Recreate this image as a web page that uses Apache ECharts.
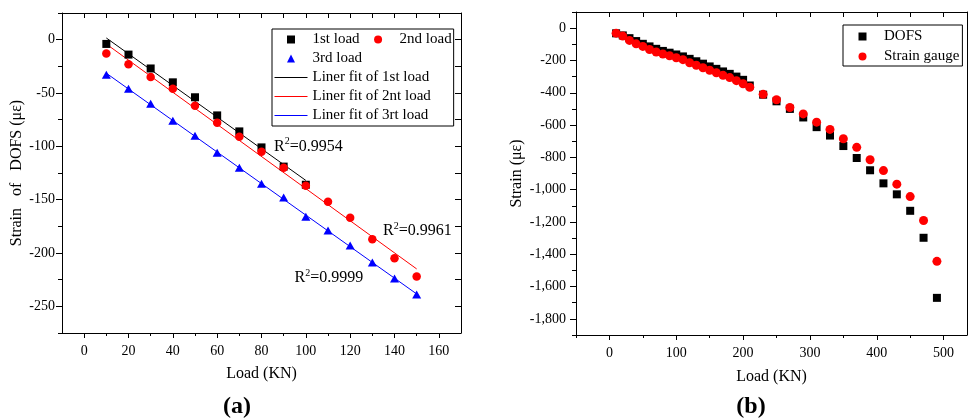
<!DOCTYPE html>
<html><head><meta charset="utf-8">
<script src="https://cdn.jsdelivr.net/npm/echarts@6/dist/echarts.min.js"></script>
<style>html,body{margin:0;padding:0;background:#fff}#c{width:968px;height:419px}</style>
</head><body><div id="c"></div>
<script>
// ---------- Panel (a) data ----------
const loadA = [10, 20, 30, 40, 50, 60, 70, 80, 90, 100, 110, 120, 130, 140, 150];
const load1st = [-4, -14, -27, -40, -54, -71, -86, -101, -119, -136];
const load2nd = [-13, -23, -35, -46, -62, -78, -91, -105, -120, -137, -152, -167, -187, -205, -222];
const load3rd = [-33, -46, -60, -76, -90, -106, -120, -135, -148, -166, -179, -193, -209, -224, -239];
const r2Texts = ['0.9954', '0.9961', '0.9999'];
const xLabelsA = [0, 20, 40, 60, 80, 100, 120, 140, 160];
const xMinorA = [10, 30, 50, 70, 90, 110, 130, 150];
const yLabelsA = [-250, -200, -150, -100, -50, 0];
const yMinorA = [-275, -225, -175, -125, -75, -25, 25];

// ---------- Panel (b) data ----------
const loadB = [10, 20, 30, 40, 50, 60, 70, 80, 90, 100, 110, 120, 130, 140, 150, 160, 170, 180, 190, 200, 210,
  230, 250, 270, 290, 310, 330, 350, 370, 390, 410, 430, 450, 470, 490];
const dofs = [-32, -45, -62, -80, -97, -113, -128, -141, -152, -163, -175, -190, -205, -220, -237, -252, -268, -283, -300, -320, -355,
  -412, -453, -500, -553, -613, -665, -730, -804, -880, -961, -1029, -1131, -1298, -1670];
const gauge = [-31, -49, -76, -97, -113, -132, -148, -160, -171, -183, -195, -214, -230, -245, -261, -276, -292, -306, -325, -344, -366,
  -410, -443, -491, -531, -582, -627, -685, -738, -815, -882, -966, -1043, -1191, -1444];
const xLabelsB = [0, 100, 200, 300, 400, 500];
const xMinorB = [-50, 50, 150, 250, 350, 450];
const yLabelsB = [-1800, -1600, -1400, -1200, -1000, -800, -600, -400, -200, 0];
const yMinorB = [-1900, -1700, -1500, -1300, -1100, -900, -700, -500, -300, -100, 100];

// ---------- helpers ----------
const zip = (xs, ys) => ys.map((y, i) => [xs[i], y]);
function linFit(xs, ys) {
  const n = ys.length, x = xs.slice(0, n);
  const mx = x.reduce((a, b) => a + b, 0) / n, my = ys.reduce((a, b) => a + b, 0) / n;
  let sxy = 0, sxx = 0;
  for (let i = 0; i < n; i++) { sxy += (x[i] - mx) * (ys[i] - my); sxx += (x[i] - mx) ** 2; }
  const b = sxy / sxx, a = my - b * mx;
  return [[x[0], a + b * x[0]], [x[n - 1], a + b * x[n - 1]]];
}
const FONT = 'Liberation Serif';
const BLACK = '#000', RED = '#ff0000', BLUE = '#0000ff';
const fmtComma = v => { const s = String(Math.abs(v)).replace(/\B(?=(\d{3})+(?!\d))/g, ','); return (v < 0 ? '-' : '') + s; };
const lbl = { color: BLACK, fontFamily: FONT, fontSize: 14 };
const nameStyle = { color: BLACK, fontFamily: FONT, fontSize: 16 };
const axLine = { show: true, onZero: false, lineStyle: { color: BLACK, width: 1 } };
const noLine = { show: false, onZero: false };

function r2Label(val) {
  return {
    show: true, position: 'right', distance: 0, color: BLACK,
    formatter: '{r|R}{s|2}{r|=' + val + '}',
    rich: { r: { fontFamily: FONT, fontSize: 16, color: BLACK }, s: { fontFamily: FONT, fontSize: 10, color: BLACK, padding: [0, 0, 9, 0] } }
  };
}
function marker(coord, val) {
  return { symbol: 'circle', symbolSize: 1, itemStyle: { color: 'transparent' }, label: r2Label(val), data: [{ coord: coord }], silent: true };
}

const chart = echarts.init(document.getElementById('c'), null, { renderer: 'canvas' });
const option = {
  animation: false,
  backgroundColor: '#fff',
  grid: [
    { left: 62, top: 13, width: 399, height: 320, outerBoundsMode: 'none', containLabel: false },
    { left: 576, top: 12, right: 1, height: 323, outerBoundsMode: 'none', containLabel: false }
  ],
  xAxis: [
    { type: 'value', gridIndex: 0, position: 'bottom', min: -10, max: 170, axisLine: axLine, splitLine: { show: false },
      axisTick: { customValues: xLabelsA, length: 5, lineStyle: { color: BLACK } },
      axisLabel: { customValues: xLabelsA, margin: 11, ...lbl },
      name: 'Load (KN)', nameLocation: 'middle', nameGap: 33, nameTextStyle: nameStyle },
    { type: 'value', gridIndex: 0, position: 'bottom', min: -10, max: 170, axisLine: noLine, splitLine: { show: false },
      axisTick: { customValues: xMinorA, length: 3, lineStyle: { color: BLACK } }, axisLabel: { show: false } },
    { type: 'value', gridIndex: 0, position: 'top', min: -10, max: 170, interval: 10, axisLine: axLine, splitLine: { show: false },
      axisTick: { inside: true, length: 5, lineStyle: { color: BLACK } }, axisLabel: { show: false } },
    { type: 'value', gridIndex: 1, position: 'bottom', min: -50, max: 535, axisLine: axLine, splitLine: { show: false },
      axisTick: { customValues: xLabelsB, length: 5, lineStyle: { color: BLACK } },
      axisLabel: { customValues: xLabelsB, margin: 11, ...lbl },
      name: 'Load (KN)', nameLocation: 'middle', nameGap: 34, nameTextStyle: nameStyle },
    { type: 'value', gridIndex: 1, position: 'bottom', min: -50, max: 535, axisLine: noLine, splitLine: { show: false },
      axisTick: { customValues: xMinorB, length: 3, lineStyle: { color: BLACK } }, axisLabel: { show: false } },
    { type: 'value', gridIndex: 1, position: 'top', min: -50, max: 535, interval: 50, axisLine: axLine, splitLine: { show: false },
      axisTick: { inside: true, length: 5, lineStyle: { color: BLACK } }, axisLabel: { show: false } }
  ],
  yAxis: [
    { type: 'value', gridIndex: 0, position: 'left', min: -275, max: 25, axisLine: axLine, splitLine: { show: false },
      axisTick: { customValues: yLabelsA, length: 6, lineStyle: { color: BLACK } },
      axisLabel: { customValues: yLabelsA, margin: 7, ...lbl },
      name: 'Strain   of   DOFS (με)', nameLocation: 'middle', nameGap: 37, nameTextStyle: nameStyle },
    { type: 'value', gridIndex: 0, position: 'left', min: -275, max: 25, axisLine: noLine, splitLine: { show: false },
      axisTick: { customValues: yMinorA, length: 4, lineStyle: { color: BLACK } }, axisLabel: { show: false } },
    { type: 'value', gridIndex: 0, position: 'right', min: -275, max: 25, interval: 25, axisLine: axLine, splitLine: { show: false },
      axisTick: { inside: true, length: 6, lineStyle: { color: BLACK } }, axisLabel: { show: false } },
    { type: 'value', gridIndex: 1, position: 'left', min: -1900, max: 100, axisLine: axLine, splitLine: { show: false },
      axisTick: { customValues: yLabelsB, length: 6, lineStyle: { color: BLACK } },
      axisLabel: { customValues: yLabelsB, margin: 10, formatter: fmtComma, ...lbl },
      name: 'Strain (με)', nameLocation: 'middle', nameGap: 51, nameTextStyle: nameStyle },
    { type: 'value', gridIndex: 1, position: 'left', min: -1900, max: 100, axisLine: noLine, splitLine: { show: false },
      axisTick: { customValues: yMinorB, length: 4, lineStyle: { color: BLACK } }, axisLabel: { show: false } },
    { type: 'value', gridIndex: 1, position: 'right', min: -1900, max: 100, axisLine: axLine, splitLine: { show: false },
      axisTick: { show: false }, axisLabel: { show: false } }
  ],
  legend: [
    { left: 272, top: 29, width: 200, orient: 'horizontal', itemWidth: 33, itemHeight: 10, itemGap: 2,
      padding: [2, 2, 2, 2], borderColor: BLACK, borderWidth: 1, backgroundColor: '#fff',
      textStyle: { fontFamily: FONT, fontSize: 15, color: BLACK, lineHeight: 17 },
      data: [
        { name: '1st load', lineStyle: { width: 0 } }, { name: '2nd load', lineStyle: { width: 0 } },
        { name: '3rd load', lineStyle: { width: 0 } },
        { name: 'Liner fit of 1st load', itemStyle: { opacity: 0 }, lineStyle: { width: 1 } },
        { name: 'Liner fit of 2nt load', itemStyle: { opacity: 0 }, lineStyle: { width: 1 } },
        { name: 'Liner fit of 3rt load', itemStyle: { opacity: 0 }, lineStyle: { width: 1 } }
      ] },
    { left: 843, top: 25, orient: 'vertical', itemWidth: 33, itemHeight: 10, itemGap: 5,
      padding: [4, 3, 2, 3], borderColor: BLACK, borderWidth: 1, backgroundColor: '#fff',
      textStyle: { fontFamily: FONT, fontSize: 15, color: BLACK, lineHeight: 15 },
      data: [{ name: 'DOFS', lineStyle: { width: 0 } }, { name: 'Strain gauge', lineStyle: { width: 0 } }] }
  ],
  series: [
    { name: '1st load', type: 'line', xAxisIndex: 0, yAxisIndex: 0, data: zip(loadA, load1st),
      symbol: 'rect', symbolSize: 8, itemStyle: { color: BLACK }, lineStyle: { width: 0, opacity: 0 } },
    { name: '2nd load', type: 'line', xAxisIndex: 0, yAxisIndex: 0, data: zip(loadA, load2nd),
      symbol: 'circle', symbolSize: 8.5, itemStyle: { color: RED }, lineStyle: { width: 0, opacity: 0 } },
    { name: '3rd load', type: 'line', xAxisIndex: 0, yAxisIndex: 0, data: zip(loadA, load3rd),
      symbol: 'triangle', symbolSize: [9, 8], itemStyle: { color: BLUE }, lineStyle: { width: 0, opacity: 0 } },
    { name: 'Liner fit of 1st load', type: 'line', xAxisIndex: 0, yAxisIndex: 0, data: linFit(loadA, load1st),
      symbol: 'none', itemStyle: { color: BLACK }, lineStyle: { width: 1, color: BLACK },
      markPoint: marker([85.4, -100], r2Texts[0]) },
    { name: 'Liner fit of 2nt load', type: 'line', xAxisIndex: 0, yAxisIndex: 0, data: linFit(loadA, load2nd),
      symbol: 'none', itemStyle: { color: RED }, lineStyle: { width: 1, color: RED },
      markPoint: marker([134.6, -179.5], r2Texts[1]) },
    { name: 'Liner fit of 3rt load', type: 'line', xAxisIndex: 0, yAxisIndex: 0, data: linFit(loadA, load3rd),
      symbol: 'none', itemStyle: { color: BLUE }, lineStyle: { width: 1, color: BLUE },
      markPoint: marker([94.7, -223.6], r2Texts[2]) },
    { name: 'DOFS', type: 'line', xAxisIndex: 3, yAxisIndex: 3, data: zip(loadB, dofs),
      symbol: 'rect', symbolSize: 8, itemStyle: { color: BLACK }, lineStyle: { width: 0, opacity: 0 } },
    { name: 'Strain gauge', type: 'line', xAxisIndex: 3, yAxisIndex: 3, data: zip(loadB, gauge),
      symbol: 'circle', symbolSize: 9, itemStyle: { color: RED }, lineStyle: { width: 0, opacity: 0 } }
  ],
  graphic: [
    { type: 'text', x: 237, y: 407, style: { text: '(a)', font: 'bold 24px "Liberation Serif"', fill: BLACK,
      align: 'center', verticalAlign: 'middle', textAlign: 'center', textVerticalAlign: 'middle' } },
    { type: 'text', x: 751, y: 407, style: { text: '(b)', font: 'bold 24px "Liberation Serif"', fill: BLACK,
      align: 'center', verticalAlign: 'middle', textAlign: 'center', textVerticalAlign: 'middle' } }
  ]
};
chart.setOption(option);
</script>
</body></html>
